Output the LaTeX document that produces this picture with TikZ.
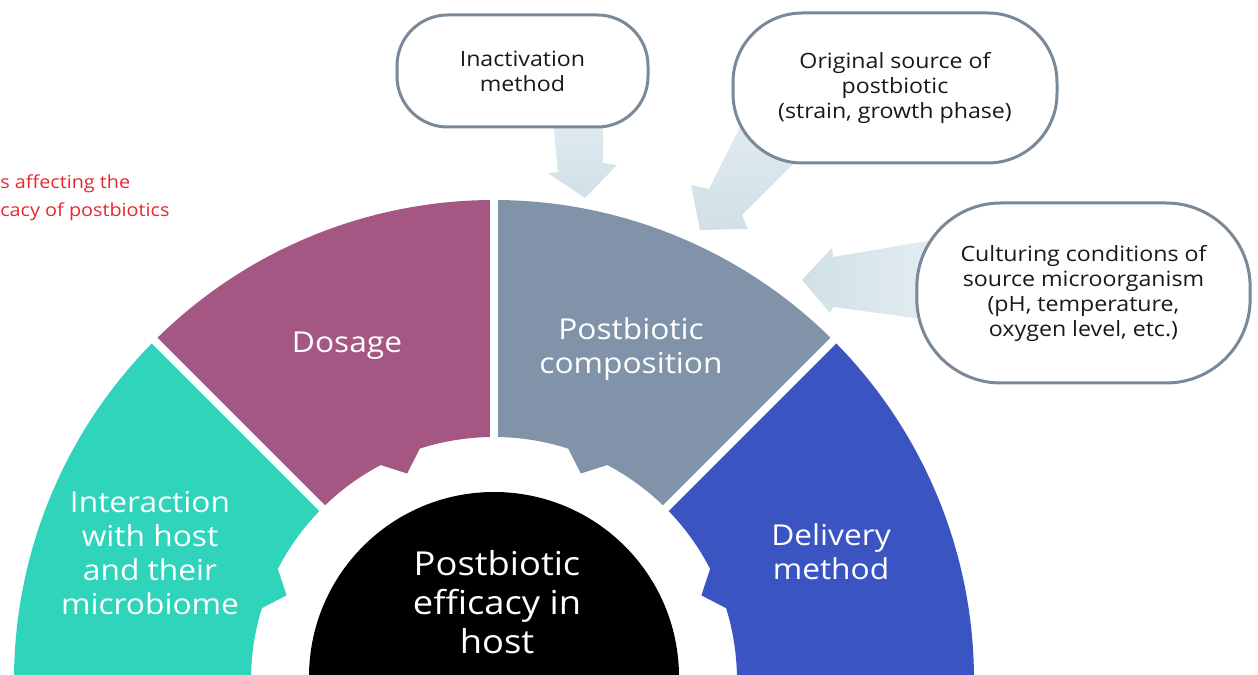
\documentclass[tikz,border=0pt]{standalone}
\usepackage{fontspec}
\setmainfont{Open Sans}[FakeStretch=1.1]
\usetikzlibrary{calc}

\definecolor{segTeal}{RGB}{48,212,186}
\definecolor{segPlum}{RGB}{165,87,131}
\definecolor{segSlate}{RGB}{128,147,168}
\definecolor{segBlue}{RGB}{58,85,193}
\definecolor{boxLine}{RGB}{122,137,152}
\definecolor{boxText}{RGB}{25,25,25}
\definecolor{arrowFill}{RGB}{208,224,231}
\definecolor{noteRed}{RGB}{232,38,48}

% one ring segment: colour, start angle, end angle, angle of its inner tooth
\newcommand\ringseg[4]{%
  \fill[#1] (#2:480) arc[start angle=#2, end angle=#3, radius=480]
    -- (#3:243) arc[start angle=#3, end angle={#4+5}, radius=243]
    -- (#4:224) -- ({#4-5}:243)
    arc[start angle={#4-5}, end angle=#2, radius=243] -- cycle;}

\tikzset{
  seglabel/.style={text=white, align=center, inner sep=0pt,
    font=\fontsize{21.6}{25.5}\selectfont},
  hublabel/.style={text=white, align=center, inner sep=0pt,
    font=\fontsize{24.75}{29.25}\selectfont},
  factor/.style={draw=boxLine, line width=2.25pt, fill=white, align=center,
    text=boxText, inner sep=0pt, font=\fontsize{15.8}{18.75}\selectfont},
  gapline/.style={white, line width=6pt},
  notetext/.style={text=noteRed, align=left, inner sep=0pt, anchor=west,
    font=\fontsize{13.5}{21}\selectfont},
}

\begin{document}
\begin{tikzpicture}[x=0.75pt, y=0.75pt]
\useasboundingbox (0,0) rectangle (1258,675);
\clip (0,0) rectangle (1258,675);

% the half ring of factors
\begin{scope}[shift={(494,-5)}]
  \ringseg{segTeal}{135}{185}{157.8}
  \ringseg{segPlum}{90}{135}{112.8}
  \ringseg{segSlate}{45}{90}{67.2}
  \ringseg{segBlue}{-5}{45}{22.2}
  \coordinate (ringc) at (0,0);
  \coordinate (g45) at (45:500);
  \coordinate (g90) at (90:500);
  \coordinate (g135) at (135:500);
  \draw[gapline] (ringc) -- (g45);
  \draw[gapline] (ringc) -- (g90);
  \draw[gapline] (ringc) -- (g135);
\end{scope}

% central hub
\node[circle, fill=black, minimum size=277.5pt, inner sep=0pt] (hub) at (494,-2) {};
\node[hublabel] (hubtext) at (497,73) {Postbiotic\\efficacy in\\host};

% segment labels
\node[seglabel] (interaction) at (150,121.5) {Interaction\\with host\\and their\\microbiome};
\node[seglabel] (dosage) at (347,329) {Dosage};
\node[seglabel] (composition) at (631,326) {Postbiotic\\composition};
\node[seglabel] (delivery) at (831,123) {Delivery\\method};

% caption fragment
\node[notetext] (note) at (0,477) {s affecting the\\cacy of postbiotics};

% block arrows feeding the composition segment
\coordinate (tipA) at (585,477);
\coordinate (tipB) at (700,445);
\coordinate (tipC) at (802,395);
\shade[top color=arrowFill!65!white, bottom color=arrowFill]
  (553,553) -- (558,503) -- (548,502) -- (tipA) -- (617,510) -- (603,512) -- (603,553) -- cycle;
\shade[top color=arrowFill!65!white, bottom color=arrowFill]
  (742,552) -- (709,486) -- (691,490) -- (tipB) -- (748,446) -- (742,460) -- (800,518) -- cycle;
\shade[left color=arrowFill, right color=arrowFill!55!white]
  (tipC) -- (832,427) -- (833,418) -- (945,437) -- (945,353) -- (833,368) -- (830,362) -- cycle;

% factor boxes
\node[factor, minimum width=188.25pt, minimum height=84pt, rounded corners=38pt]
  (inact) at (522.5,604) {Inactivation\\method};
\node[factor, minimum width=243pt, minimum height=112.5pt, rounded corners=52pt]
  (source) at (895,587) {Original source of\\postbiotic\\(strain, growth phase)};
\node[factor, minimum width=250pt, minimum height=135pt, rounded corners=63pt]
  (culture) at (1083.5,382) {Culturing conditions of\\source microorganism\\(pH, temperature,\\oxygen level, etc.)};
\end{tikzpicture}
\end{document}
